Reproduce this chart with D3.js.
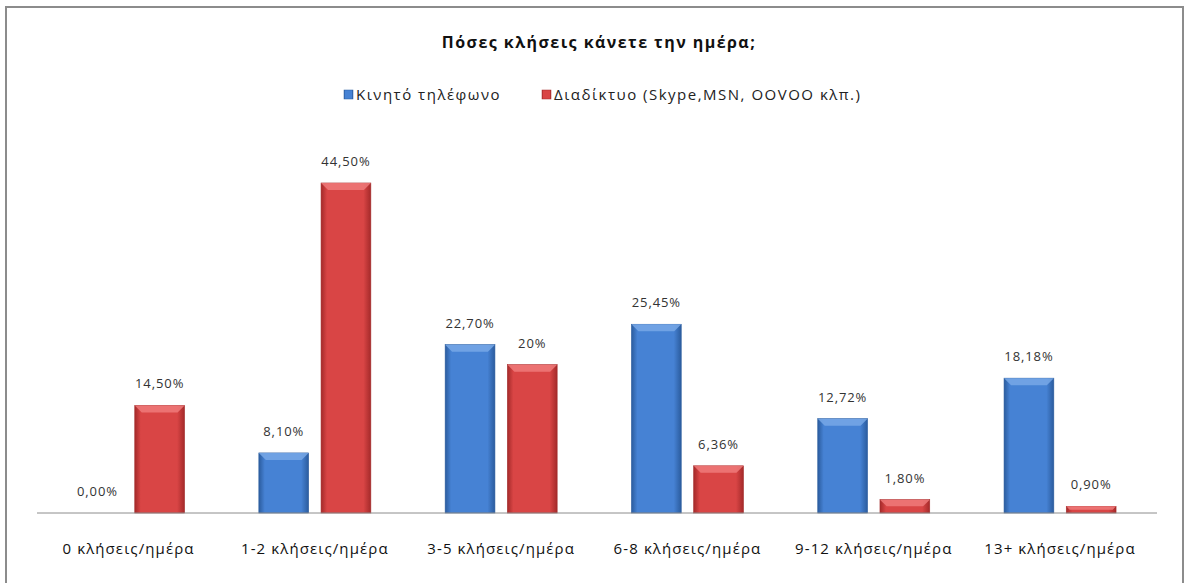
<!DOCTYPE html>
<html>
<head>
<meta charset="utf-8">
<script src="https://cdn.jsdelivr.net/npm/d3@7"></script>
<style>
  body { margin: 0; background: #fff; }
  svg { display: block; font-family: "Open Sans", "Noto Sans", sans-serif; }
</style>
</head>
<body>
<div class="container"></div>
<script>
const categories = ["0 κλήσεις/ημέρα", "1-2 κλήσεις/ημέρα", "3-5 κλήσεις/ημέρα",
  "6-8 κλήσεις/ημέρα", "9-12 κλήσεις/ημέρα", "13+ κλήσεις/ημέρα"];
const seriesNames = ["Κινητό τηλέφωνο", "Διαδίκτυο (Skype,MSN, OOVOO κλπ.)"];
const mobile = [0.00, 8.10, 22.70, 25.45, 12.72, 18.18];
const internet = [14.50, 44.50, 20, 6.36, 1.80, 0.90];
const mobileLabels = ["0,00%", "8,10%", "22,70%", "25,45%", "12,72%", "18,18%"];
const internetLabels = ["14,50%", "44,50%", "20%", "6,36%", "1,80%", "0,90%"];
const title = "Πόσες κλήσεις κάνετε την ημέρα;";

const W = 1185, H = 583;
const colors = [
  { mid: "#4682d4", dark: "#2b5c9e", light: "#78a8e6" },
  { mid: "#d94545", dark: "#a42a2a", light: "#ee7a7a" }
];

const svg = d3.select(".container").append("svg")
  .attr("width", W).attr("height", H);

// chart frame
svg.append("rect")
  .attr("x", 6).attr("y", 7).attr("width", 1177).attr("height", 600)
  .attr("fill", "#fff").attr("stroke", "#8c8c8c").attr("stroke-width", 2);

const defs = svg.append("defs");
colors.forEach((c, i) => {
  const g = defs.append("linearGradient").attr("id", "grad" + i)
    .attr("x1", "0%").attr("x2", "100%").attr("y1", "0%").attr("y2", "0%");
  g.append("stop").attr("offset", "0%").attr("stop-color", c.dark);
  g.append("stop").attr("offset", "12%").attr("stop-color", c.mid);
  g.append("stop").attr("offset", "85%").attr("stop-color", c.mid);
  g.append("stop").attr("offset", "100%").attr("stop-color", c.dark);
});

const x0 = d3.scaleBand().domain(categories).range([35.4, 1153.2]);
const x1 = d3.scaleBand().domain([0, 1]).range([-56, 56]).paddingInner(0.2);
const y = d3.scaleLinear().domain([0, 50]).range([513, 142.2]);

const data = categories.map((c, i) => ({
  cat: c,
  vals: [
    { s: 0, v: mobile[i], label: mobileLabels[i] },
    { s: 1, v: internet[i], label: internetLabels[i] }
  ]
}));

// title
svg.append("text")
  .attr("x", 599).attr("y", 48)
  .attr("text-anchor", "middle")
  .attr("font-size", 16).attr("font-weight", "bold").attr("fill", "#111")
  .attr("letter-spacing", 1.45)
  .text(title);

// legend
const legendX = [344, 542];
seriesNames.forEach((name, i) => {
  const g = svg.append("g").attr("transform", `translate(${legendX[i]},90)`);
  g.append("rect").attr("width", 9).attr("height", 9)
    .attr("fill", `url(#grad${i})`).attr("stroke", colors[i].dark).attr("stroke-width", 0.5);
  g.append("text").attr("x", 12).attr("y", 10)
    .attr("font-size", 15).attr("fill", "#222").attr("letter-spacing", 1.5)
    .text(name);
});

// bars
const groups = svg.selectAll(".grp").data(data).enter().append("g")
  .attr("class", "grp")
  .attr("transform", d => `translate(${x0(d.cat) + x0.bandwidth() / 2},0)`);

const bars = groups.selectAll(".bar").data(d => d.vals).enter().append("g")
  .attr("class", "bar");

bars.filter(d => d.v > 0).append("rect")
  .attr("x", d => x1(d.s)).attr("y", d => y(d.v))
  .attr("width", x1.bandwidth()).attr("height", d => y(0) - y(d.v))
  .attr("fill", d => `url(#grad${d.s})`)
  .attr("stroke", d => colors[d.s].dark).attr("stroke-width", 0.6);

// top bevel highlight
bars.filter(d => d.v > 0).append("path")
  .attr("d", d => {
    const x = x1(d.s), w = x1.bandwidth(), t = y(d.v);
    const b = Math.min(7, (y(0) - t) / 2);
    return `M${x},${t}L${x + w},${t}L${x + w - b},${t + b}L${x + b},${t + b}Z`;
  })
  .attr("fill", d => colors[d.s].light).attr("opacity", 0.85);

bars.append("text")
  .attr("x", d => x1(d.s) + x1.bandwidth() / 2)
  .attr("y", d => y(d.v) - 17)
  .attr("text-anchor", "middle")
  .attr("font-size", 13).attr("fill", "#333").attr("letter-spacing", 0.9)
  .text(d => d.label);

// baseline
svg.append("line")
  .attr("x1", 37).attr("x2", 1157).attr("y1", y(0)).attr("y2", y(0))
  .attr("stroke", "#8c8c8c").attr("stroke-width", 1);

// category labels
svg.selectAll(".cat").data(categories).enter().append("text")
  .attr("class", "cat")
  .attr("x", d => x0(d) + x0.bandwidth() / 2)
  .attr("y", 554)
  .attr("text-anchor", "middle")
  .attr("font-size", 15).attr("fill", "#111").attr("letter-spacing", 1.1)
  .text(d => d);
</script>
</body>
</html>
